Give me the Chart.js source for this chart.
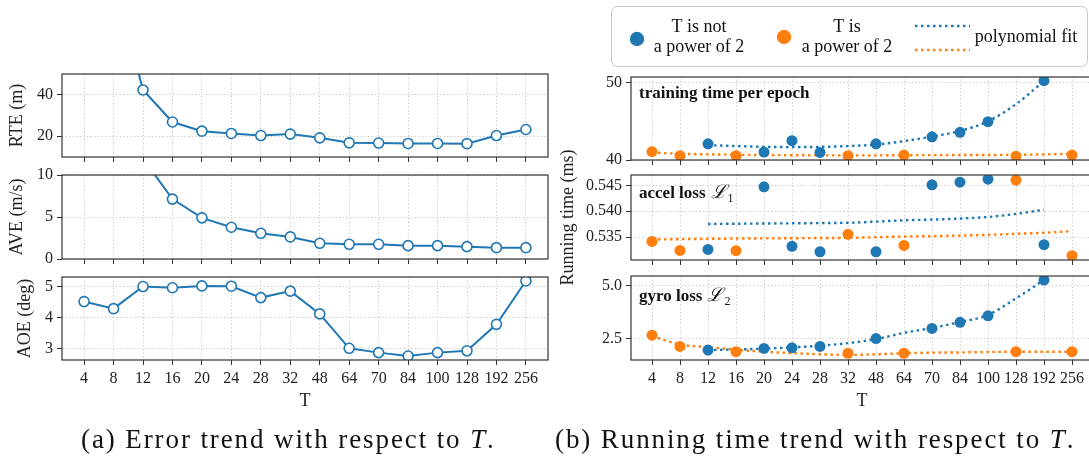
<!DOCTYPE html>
<html>
<head>
<meta charset="utf-8">
<script src="https://cdn.jsdelivr.net/npm/chart.js@4.4.1/dist/chart.umd.min.js"></script>
<style>
  html, body { margin: 0; padding: 0; background: #fff; width: 1089px; height: 459px; overflow: hidden; }
  canvas { position: absolute; left: 0; top: 0; }
  .cap { position: absolute; top: 426px; font: 27px "Liberation Serif", serif; line-height: 27px; letter-spacing: 1.9px; color: #111; white-space: nowrap; }
</style>
</head>
<body>
<canvas id="rte" width="1100" height="459"></canvas>
<canvas id="ave" width="1100" height="459"></canvas>
<canvas id="aoe" width="1100" height="459"></canvas>
<canvas id="train" width="1100" height="459"></canvas>
<canvas id="accel" width="1100" height="459"></canvas>
<canvas id="gyro" width="1100" height="459"></canvas>
<div class="cap" style="left:81px">(a) Error trend with respect to <i>T</i>.</div>
<div class="cap" style="left:555px">(b) Running time trend with respect to <i>T</i>.</div>
<script>
const T_LABELS = ['4', '8', '12', '16', '20', '24', '28', '32', '48', '64', '70', '84', '100', '128', '192', '256'];

// error metrics, one value per T
const RTE = [150, 96, 42.2, 26.8, 22.4, 21.3, 20.3, 21.0, 19.2, 16.8, 16.7, 16.5, 16.5, 16.4, 20.3, 23.2];
const AVE = [24, 17, 11.95, 7.13, 4.9, 3.78, 3.06, 2.63, 1.87, 1.75, 1.75, 1.59, 1.59, 1.47, 1.35, 1.35];
const AOE = [4.52, 4.29, 5.01, 4.97, 5.03, 5.02, 4.65, 4.86, 4.12, 3.0, 2.86, 2.75, 2.86, 2.92, 3.78, 5.19];

// running time, split by whether T is a power of 2
const T_NOT_POW2 = ['12', '20', '24', '28', '48', '70', '84', '100', '192'];
const T_POW2 = ['4', '8', '16', '32', '64', '128', '256'];
const T_FIT_NOT_POW2 = ['12', '16', '20', '24', '28', '32', '48', '64', '70', '84', '100', '128', '192'];

const TRAIN_NOT_POW2 = [42.09, 41.02, 42.5, 40.98, 42.09, 42.99, 43.58, 44.95, 50.26];
const TRAIN_POW2 = [41.07, 40.56, 40.56, 40.56, 40.64, 40.5, 40.64];
const TRAIN_FIT_NOT_POW2 = [41.92, 41.8, 41.7, 41.67, 41.7, 41.8, 42.0, 42.44, 43.03, 43.76, 45.0, 47.22, 50.2];
const TRAIN_FIT_POW2 = [40.98, 40.8, 40.73, 40.68, 40.64, 40.62, 40.6, 40.6, 40.6, 40.62, 40.63, 40.64, 40.65, 40.67, 40.72, 40.8];

const ACCEL_NOT_POW2 = [0.53265, 0.54471, 0.53323, 0.53219, 0.53219, 0.5451, 0.54561, 0.54619, 0.53355];
const ACCEL_POW2 = [0.53419, 0.53245, 0.53239, 0.53555, 0.53342, 0.546, 0.53142];
const ACCEL_FIT_NOT_POW2 = [0.53755, 0.5376, 0.53764, 0.53768, 0.53772, 0.53778, 0.538, 0.53826, 0.5384, 0.5386, 0.5389, 0.5395, 0.5403];
const ACCEL_FIT_POW2 = [0.53455, 0.53462, 0.53468, 0.53473, 0.53477, 0.5348, 0.53484, 0.53487, 0.535, 0.53513, 0.5352, 0.53532, 0.53545, 0.53565, 0.53585, 0.53616];

const GYRO_NOT_POW2 = [1.95, 2.03, 2.06, 2.125, 2.5, 2.98, 3.27, 3.58, 5.28];
const GYRO_POW2 = [2.66, 2.125, 1.875, 1.8, 1.8, 1.875, 1.875];
const GYRO_FIT_NOT_POW2 = [1.95, 1.98, 2.02, 2.08, 2.16, 2.28, 2.47, 2.77, 3.0, 3.28, 3.62, 4.41, 5.28];
const GYRO_FIT_POW2 = [2.61, 2.22, 2.09, 1.97, 1.875, 1.81, 1.75, 1.72, 1.75, 1.8, 1.83, 1.84, 1.86, 1.875, 1.875, 1.875];

const BLUE = '#1f77b4';
const ORANGE = '#ff7f0e';
const GRID = '#b8b8b8';
const INK = '#222';
const SERIF = '"Liberation Serif", "Times New Roman", serif';

Chart.defaults.font.family = SERIF;
Chart.defaults.color = INK;

const pts = (labels, values) => labels.map((t, k) => ({ x: T_LABELS.indexOf(t), y: values[k] }));

// axes frame around each subplot
const frame = {
  id: 'frame',
  afterDraw(chart) {
    const { ctx, chartArea: a } = chart;
    ctx.save();
    ctx.strokeStyle = '#333';
    ctx.lineWidth = 1.2;
    ctx.strokeRect(a.left, a.top, a.right - a.left, a.bottom - a.top);
    ctx.restore();
  }
};

// bold caption in the top-left corner of a subplot
const panelLabel = {
  id: 'panelLabel',
  afterDatasetsDraw(chart, args, opts) {
    if (!opts.text) return;
    const { ctx, chartArea } = chart;
    ctx.save();
    ctx.fillStyle = '#111';
    ctx.font = 'bold 17px ' + SERIF;
    let x = chartArea.left + 8;
    const y = chartArea.top + opts.dy;
    ctx.fillText(opts.text, x, y);
    if (opts.sub) {
      x += ctx.measureText(opts.text).width + 5;
      ctx.font = 'italic 19px "DejaVu Serif", serif';
      ctx.fillText('\u2112', x, y);
      x += ctx.measureText('\u2112').width + 1;
      ctx.font = '12px ' + SERIF;
      ctx.fillText(opts.sub, x, y + 4);
    }
    ctx.restore();
  }
};

// legend box above the running time subplots
const legendBox = {
  id: 'legendBox',
  afterDraw(chart) {
    const ctx = chart.ctx;
    ctx.save();
    ctx.beginPath();
    ctx.roundRect(611.5, 6.5, 476, 60, 6);
    ctx.fillStyle = 'rgba(255,255,255,0.9)';
    ctx.fill();
    ctx.strokeStyle = '#c8c8c8';
    ctx.lineWidth = 1;
    ctx.stroke();

    ctx.fillStyle = BLUE;
    ctx.beginPath(); ctx.arc(637, 39, 7.2, 0, Math.PI * 2); ctx.fill();
    ctx.fillStyle = ORANGE;
    ctx.beginPath(); ctx.arc(784, 37, 7.2, 0, Math.PI * 2); ctx.fill();

    ctx.setLineDash([2.5, 3.5]);
    ctx.lineWidth = 2.4;
    ctx.strokeStyle = BLUE;
    ctx.beginPath(); ctx.moveTo(915, 26); ctx.lineTo(970, 26); ctx.stroke();
    ctx.strokeStyle = ORANGE;
    ctx.beginPath(); ctx.moveTo(915, 50); ctx.lineTo(970, 50); ctx.stroke();
    ctx.setLineDash([]);

    ctx.fillStyle = '#111';
    ctx.font = '18px ' + SERIF;
    ctx.textAlign = 'center';
    ctx.textBaseline = 'middle';
    ctx.fillText('T is not', 699, 27);
    ctx.fillText('a power of 2', 699, 47);
    ctx.fillText('T is', 847, 27);
    ctx.fillText('a power of 2', 847, 47);
    ctx.fillText('polynomial fit', 1026, 37);
    ctx.restore();
  }
};

function makeChart(id, box, y, datasets, extra) {
  const showX = !!extra.xLabels;
  const xH = showX ? 52 : 10;
  new Chart(document.getElementById(id), {
    type: 'line',
    data: { datasets },
    options: {
      responsive: false,
      animation: false,
      devicePixelRatio: 1,
      layout: {
        autoPadding: false,
        padding: { left: 0, top: box.top, right: 1100 - box.right, bottom: 459 - box.bottom - xH }
      },
      plugins: {
        legend: { display: false },
        tooltip: { enabled: false },
        panelLabel: extra.label || {}
      },
      scales: {
        x: {
          type: 'linear',
          min: -0.75,
          max: 15.75,
          afterBuildTicks: s => { s.ticks = T_LABELS.map((_, i) => ({ value: i })); },
          afterFit: s => { s.height = xH; },
          ticks: {
            display: showX,
            autoSkip: false,
            maxRotation: 0,
            padding: 4,
            font: { size: 16 },
            color: INK,
            callback: v => T_LABELS[v]
          },
          grid: { color: GRID, lineWidth: 0.8, tickLength: 5, tickColor: '#333', tickWidth: 1 },
          border: { display: false, dash: [1.2, 2.4] },
          title: { display: showX, text: 'T', font: { size: 18 }, color: INK, padding: 0 }
        },
        y: {
          min: y.min,
          max: y.max,
          afterBuildTicks: s => { s.ticks = y.ticks.map(v => ({ value: v })); },
          afterFit: s => { s.width = box.left; },
          ticks: {
            padding: 4,
            font: { size: 16 },
            color: INK,
            callback: v => y.digits ? v.toFixed(y.digits) : String(v)
          },
          grid: { color: GRID, lineWidth: 0.8, tickLength: 5, tickColor: '#333', tickWidth: 1 },
          border: { display: false, dash: [1.2, 2.4] },
          title: {
            display: !!y.title,
            text: y.title || '',
            font: { size: 18 },
            color: INK,
            padding: { top: y.titleX - 10.8, bottom: 0 }
          }
        }
      }
    },
    plugins: [frame, panelLabel].concat(extra.plugins || [])
  });
}

// open-marker line for the error subplots
function errorSeries(values) {
  return [{
    data: values.map((v, i) => ({ x: i, y: v })),
    borderColor: BLUE,
    borderWidth: 2,
    pointRadius: 5,
    pointBackgroundColor: '#fff',
    pointBorderColor: BLUE,
    pointBorderWidth: 1.6,
    tension: 0
  }];
}

// scatter points plus dotted polynomial fits for the running time subplots
function timeSeries(notPow2, pow2, fitNotPow2, fitPow2) {
  const dot = color => ({ showLine: false, pointRadius: 5.5, pointBorderWidth: 0, pointBackgroundColor: color, borderColor: color });
  const fit = color => ({ borderColor: color, borderWidth: 2.4, borderDash: [2.5, 3.5], pointRadius: 0, cubicInterpolationMode: 'monotone' });
  return [
    Object.assign({ data: pts(T_NOT_POW2, notPow2) }, dot(BLUE)),
    Object.assign({ data: pts(T_POW2, pow2) }, dot(ORANGE)),
    Object.assign({ data: pts(T_FIT_NOT_POW2, fitNotPow2) }, fit(BLUE)),
    Object.assign({ data: pts(T_LABELS, fitPow2) }, fit(ORANGE))
  ];
}

const LEFT = { left: 62, right: 548 };
const RIGHT = { left: 631, right: 1093 };

makeChart('rte', Object.assign({ top: 74, bottom: 157 }, LEFT),
  { min: 10, max: 49.85, ticks: [20, 40], title: 'RTE (m)', titleX: 17 }, errorSeries(RTE), {});
makeChart('ave', Object.assign({ top: 175, bottom: 259 }, LEFT),
  { min: 0, max: 10, ticks: [0, 5, 10], title: 'AVE (m/s)', titleX: 17 }, errorSeries(AVE), {});
makeChart('aoe', Object.assign({ top: 277, bottom: 360 }, LEFT),
  { min: 2.62, max: 5.32, ticks: [3, 4, 5], title: 'AOE (deg)', titleX: 25 }, errorSeries(AOE), { xLabels: true });

makeChart('train', Object.assign({ top: 77, bottom: 160 }, RIGHT),
  { min: 40, max: 50.73, ticks: [40, 50] },
  timeSeries(TRAIN_NOT_POW2, TRAIN_POW2, TRAIN_FIT_NOT_POW2, TRAIN_FIT_POW2),
  { label: { text: 'training time per epoch', dy: 21 }, plugins: [legendBox] });
makeChart('accel', Object.assign({ top: 175, bottom: 260 }, RIGHT),
  { min: 0.5306, max: 0.5470, ticks: [0.535, 0.540, 0.545], digits: 3, title: 'Running time (ms)', titleX: 568 },
  timeSeries(ACCEL_NOT_POW2, ACCEL_POW2, ACCEL_FIT_NOT_POW2, ACCEL_FIT_POW2),
  { label: { text: 'accel loss', sub: '1', dy: 23 } });
makeChart('gyro', Object.assign({ top: 276, bottom: 360 }, RIGHT),
  { min: 1.48, max: 5.47, ticks: [2.5, 5.0], digits: 1 },
  timeSeries(GYRO_NOT_POW2, GYRO_POW2, GYRO_FIT_NOT_POW2, GYRO_FIT_POW2),
  { label: { text: 'gyro loss', sub: '2', dy: 25 }, xLabels: true });
</script>
</body>
</html>
